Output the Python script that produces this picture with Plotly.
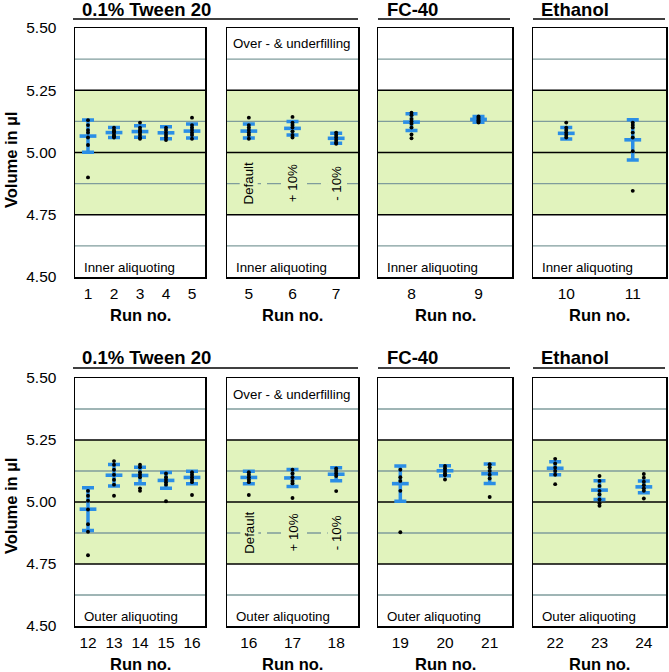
import plotly.graph_objects as go

W, H = 669, 672

# ---------------- data ----------------
run_no = list(range(1, 25))
mean_volume = [5.066, 5.080, 5.084, 5.079, 5.086, 5.097, 5.057, 5.122, 5.133, 5.077, 5.051, 4.971,
               5.108, 5.107, 5.087, 5.099, 5.097, 5.112, 5.074, 5.126, 5.114, 5.136, 5.048, 5.061]
sd_volume = [0.065, 0.020, 0.023, 0.024, 0.028, 0.027, 0.020, 0.034, 0.012, 0.023, 0.081, 0.086,
             0.043, 0.033, 0.032, 0.025, 0.034, 0.026, 0.071, 0.020, 0.039, 0.026, 0.038, 0.024]
single_volumes = [
    [5.13, 5.11, 5.09, 5.08, 5.06, 5.03, 4.90],
    [5.10, 5.09, 5.085, 5.08, 5.07, 5.065, 5.06],
    [5.12, 5.10, 5.09, 5.085, 5.08, 5.07, 5.06, 5.055],
    [5.10, 5.09, 5.08, 5.07, 5.06, 5.05],
    [5.14, 5.11, 5.10, 5.09, 5.08, 5.07, 5.055],
    [5.143, 5.12, 5.11, 5.10, 5.085, 5.07, 5.06],
    [5.08, 5.07, 5.06, 5.05, 5.04, 5.035],
    [5.16, 5.15, 5.135, 5.125, 5.115, 5.10, 5.072, 5.057],
    [5.145, 5.14, 5.135, 5.13, 5.125, 5.12],
    [5.12, 5.10, 5.09, 5.08, 5.07, 5.06],
    [5.12, 5.11, 5.10, 5.08, 5.06, 5.005, 4.846],
    [5.045, 5.025, 5.005, 4.97, 4.91, 4.88, 4.785],
    [5.165, 5.15, 5.13, 5.11, 5.09, 5.07, 5.025],
    [5.15, 5.14, 5.12, 5.11, 5.10, 5.055, 5.045],
    [5.115, 5.10, 5.09, 5.08, 5.07, 5.003],
    [5.12, 5.11, 5.10, 5.09, 5.08, 5.028],
    [5.13, 5.115, 5.10, 5.085, 5.075, 5.016],
    [5.135, 5.125, 5.115, 5.105, 5.044],
    [5.13, 5.10, 5.085, 5.045, 4.878],
    [5.145, 5.135, 5.125, 5.115, 5.108, 5.091],
    [5.152, 5.14, 5.125, 5.11, 5.095, 5.02],
    [5.174, 5.155, 5.138, 5.125, 5.11, 5.072],
    [5.105, 5.085, 5.065, 5.045, 5.03, 5.01, 4.995, 4.985],
    [5.113, 5.098, 5.082, 5.068, 5.055, 5.045, 5.014],
]

panel_runs = [[1, 2, 3, 4, 5], [5, 6, 7], [8, 9], [10, 11],
              [12, 13, 14, 15, 16], [16, 17, 18], [19, 20, 21], [22, 23, 24]]
group_titles = ["0.1% Tween 20", "FC-40", "Ethanol"]
row_labels = ["Inner aliquoting", "Outer aliquoting"]
fill_labels = ["Default", "+ 10%", "- 10%"]
y_ticks = [4.50, 4.75, 5.00, 5.25, 5.50]
y_title = "Volume in µl"
x_title = "Run no."

# ---------------- styling ----------------
BLUE = "#2b8ee6"
GREEN = "#e1f3bd"
GRAY = "#7f9c9c"
FONT = "Arial, Liberation Sans, sans-serif"

cols_px = [(75, 205), (227, 358), (378, 512), (533, 666)]
rows_px = [(28, 277), (378, 626)]


def px(x):
    return x / W


def py(y):
    return 1 - y / H


fig = go.Figure()
layout = dict(template="none", width=W, height=H, margin=dict(l=0, r=0, t=0, b=0, pad=0),
              autosize=False,
              paper_bgcolor="white", plot_bgcolor="white", showlegend=False,
              font=dict(family=FONT, color="black"))
shapes = []
annotations = []

for i, runs in enumerate(panel_runs):
    r, c = divmod(i, 4)
    n = i + 1
    xa = "x" if n == 1 else f"x{n}"
    ya = "y" if n == 1 else f"y{n}"
    xkey = "xaxis" if n == 1 else f"xaxis{n}"
    ykey = "yaxis" if n == 1 else f"yaxis{n}"
    x0, x1 = cols_px[c]
    y0, y1 = rows_px[r]
    layout[xkey] = dict(domain=[px(x0), px(x1)], anchor=ya, range=[runs[0] - 0.5, runs[-1] + 0.5],
                        tickvals=runs, ticktext=[str(v) for v in runs], showgrid=False, zeroline=False,
                        showline=True, mirror=True, linecolor="black", linewidth=1.5, ticks="",
                        automargin=False, ticklabelstandoff=2, tickfont=dict(size=15.5),
                        fixedrange=True)
    layout[ykey] = dict(domain=[py(y1), py(y0)], anchor=xa, range=[4.5, 5.5],
                        tickvals=y_ticks, ticktext=[f"{v:.2f}" for v in y_ticks],
                        showticklabels=(c == 0), showgrid=False, zeroline=False,
                        showline=True, mirror=True, linecolor="black", linewidth=1.5, ticks="",
                        automargin=False, ticklabelstandoff=14, tickfont=dict(size=15.5),
                        fixedrange=True)

    means = [mean_volume[run_no.index(v)] for v in runs]
    sds = [sd_volume[run_no.index(v)] for v in runs]
    fig.add_trace(go.Scatter(
        x=runs, y=means, xaxis=xa, yaxis=ya, mode="markers", hoverinfo="skip",
        marker=dict(symbol="line-ew", size=12, color=BLUE, line=dict(width=3.6, color=BLUE)),
        error_y=dict(type="data", array=sds, visible=True, color=BLUE, thickness=3.5, width=6)))
    dx, dy = [], []
    for v in runs:
        vals = single_volumes[run_no.index(v)]
        dx += [v] * len(vals)
        dy += vals
    fig.add_trace(go.Scatter(x=dx, y=dy, xaxis=xa, yaxis=ya, mode="markers", hoverinfo="skip",
                             marker=dict(symbol="circle", size=3.9, color="black",
                                         line=dict(width=0))))

    # green tolerance band and horizontal lines
    shapes.append(dict(type="rect", xref=f"{xa} domain", yref=ya, x0=0, x1=1, y0=4.75, y1=5.25,
                       fillcolor=GREEN, line=dict(width=0), layer="below"))
    for g in [4.625, 4.875, 5.125, 5.375]:
        dash = "14px,6px" if (c == 1 and g == 4.875) else "solid"
        shapes.append(dict(type="line", xref=f"{xa} domain", yref=ya, x0=0, x1=1, y0=g, y1=g,
                           line=dict(color=GRAY, width=1.4, dash=dash), layer="below"))
    for g in [4.75, 5.00, 5.25]:
        shapes.append(dict(type="line", xref=f"{xa} domain", yref=ya, x0=0, x1=1, y0=g, y1=g,
                           line=dict(color="black", width=1.6), layer="below"))

    # row label inside panel
    annotations.append(dict(text=row_labels[r], xref="paper", yref="paper",
                            x=px(x0 + 7), y=py(y1 - 10), xanchor="left", yanchor="middle",
                            showarrow=False, font=dict(size=13.3)))
    if c == 1:
        annotations.append(dict(text="Over - & underfilling", xref="paper", yref="paper",
                                x=px(x0 + 4), y=py(y0 + 16), xanchor="left", yanchor="middle",
                                showarrow=False, font=dict(size=13.3)))
        for v, lab in zip(runs, fill_labels):
            annotations.append(dict(text=lab, xref=xa, yref=ya, x=v, y=4.875, textangle=-90,
                                    showarrow=False, bgcolor=GREEN, borderpad=1,
                                    font=dict(size=13.3)))

    # x axis title
    annotations.append(dict(text=f"<b>{x_title}</b>", xref="paper", yref="paper",
                            x=px((x0 + x1) / 2), y=py(y1 + 38), xanchor="center", yanchor="middle",
                            showarrow=False, font=dict(size=16.5)))

# group titles and underlines
title_spans = [(73, 358), (378, 510), (533, 665)]
title_left = [80, 385, 539]
for r, (ty, ly) in enumerate([(10, 19), (357, 368)]):
    for k, t in enumerate(group_titles):
        annotations.append(dict(text=f"<b>{t}</b>", xref="paper", yref="paper",
                                x=px(title_left[k]), y=py(ty), xanchor="left", yanchor="middle",
                                showarrow=False, font=dict(size=18.5)))
        a, b = title_spans[k]
        shapes.append(dict(type="line", xref="paper", yref="paper", x0=px(a), x1=px(b),
                           y0=py(ly), y1=py(ly), line=dict(color="black", width=1.6)))

# y axis titles
for cy in [160, 506]:
    annotations.append(dict(text=f"<b>{y_title}</b>", xref="paper", yref="paper",
                            x=px(11), y=py(cy), textangle=-90, xanchor="center", yanchor="middle",
                            showarrow=False, font=dict(size=16.5)))

layout["shapes"] = shapes
layout["annotations"] = annotations
fig.update_layout(**layout)
fig.write_html("out.html", config={"displayModeBar": False, "staticPlot": True},
               post_script="document.body.style.margin='0';document.body.style.overflow='hidden';")
